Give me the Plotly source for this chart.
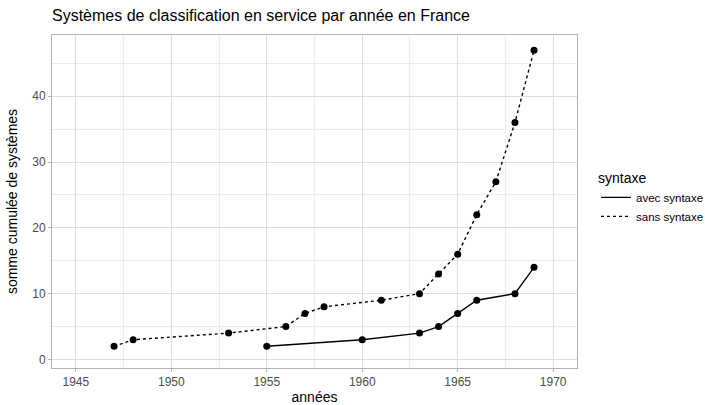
import plotly.graph_objects as go

# Data
annees_sans = [1947, 1948, 1953, 1956, 1957, 1958, 1961, 1963, 1964, 1965, 1966, 1967, 1968, 1969]
cumul_sans = [2, 3, 4, 5, 7, 8, 9, 10, 13, 16, 22, 27, 36, 47]
annees_avec = [1955, 1960, 1963, 1964, 1965, 1966, 1968, 1969]
cumul_avec = [2, 3, 4, 5, 7, 9, 10, 14]
x_ticks = [1945, 1950, 1955, 1960, 1965, 1970]
y_ticks = [0, 10, 20, 30, 40]

FONT = "Liberation Sans, Arial, Helvetica, sans-serif"

fig = go.Figure()
# lines (legend entries)
fig.add_trace(go.Scatter(x=annees_avec, y=cumul_avec, mode="lines", name="avec syntaxe",
                         line=dict(color="black", width=1.4)))
fig.add_trace(go.Scatter(x=annees_sans, y=cumul_sans, mode="lines", name="sans syntaxe",
                         line=dict(color="black", width=1.4, dash="3px,3px")))
# points
fig.add_trace(go.Scatter(x=annees_avec, y=cumul_avec, mode="markers", showlegend=False,
                         marker=dict(color="black", size=7)))
fig.add_trace(go.Scatter(x=annees_sans, y=cumul_sans, mode="markers", showlegend=False,
                         marker=dict(color="black", size=7)))

axis_common = dict(
    showline=True, mirror=True, linecolor="#b3b3b3", linewidth=1,
    ticks="outside", ticklen=3, tickcolor="#b3b3b3", tickwidth=1,
    showgrid=True, gridcolor="#dedede", gridwidth=1,
    zeroline=False,
    tickfont=dict(family=FONT, size=12, color="#4d4d4d"),
)

fig.update_layout(
    width=705, height=405,
    margin=dict(l=52, r=128, t=35, b=37, autoexpand=False),
    paper_bgcolor="white", plot_bgcolor="white",
    font=dict(family=FONT, color="black"),
    title=dict(text="Systèmes de classification en service par année en France",
               x=52/705, xanchor="left", y=1-15/405, yanchor="middle",
               font=dict(family=FONT, size=16, color="black")),
    xaxis=dict(
        **axis_common,
        range=[1943.75, 1971.25],
        tickvals=x_ticks,
        title=dict(text="années", font=dict(family=FONT, size=14, color="black"), standoff=4),
        minor=dict(dtick=2.5, tick0=1942.5, showgrid=True, gridcolor="#ececec", gridwidth=0.6, ticks=""),
    ),
    yaxis=dict(
        **axis_common,
        range=[-1.3, 49.3],
        tickvals=y_ticks,
        title=dict(text="somme cumulée de systèmes", font=dict(family=FONT, size=14, color="black"), standoff=11),
        minor=dict(dtick=5, tick0=5, showgrid=True, gridcolor="#ececec", gridwidth=0.6, ticks=""),
    ),
    legend=dict(
        title=dict(text="syntaxe", font=dict(family=FONT, size=14, color="black")),
        font=dict(family=FONT, size=11.5, color="black"),
        xref="container", x=596/705, xanchor="left",
        y=0.51, yanchor="middle",
        bgcolor="rgba(0,0,0,0)", itemwidth=30,
        tracegroupgap=0,
    ),
)

fig.write_html("out.html", config={"displayModeBar": False},
               post_script="document.body.style.margin='0';")
